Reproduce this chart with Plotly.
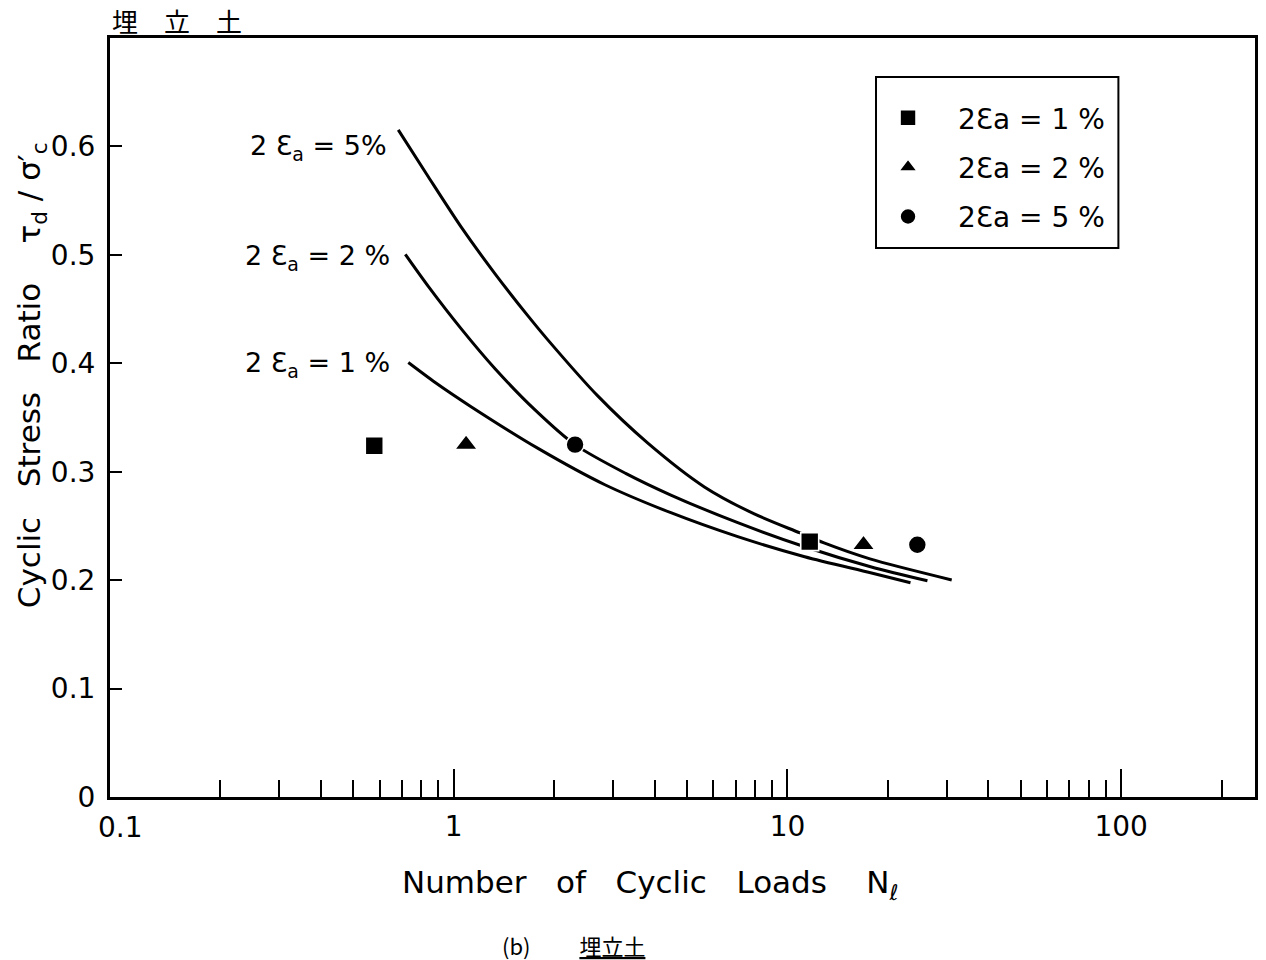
import math
import plotly.graph_objects as go

# Cyclic strength curves (double amplitude axial strain 2εa) for reclaimed soil
n_1pct = [0.731, 0.880, 1.127, 1.789, 2.838, 4.473, 7.096, 11.26, 17.74, 23.37]
r_1pct = [0.4007, 0.3823, 0.360, 0.3215, 0.288, 0.2622, 0.2401, 0.2216, 0.2068, 0.1976]

n_2pct = [0.716, 0.838, 1.052, 1.330, 1.752, 2.308, 3.274, 4.473, 7.096, 11.26, 17.74, 26.27]
r_2pct = [0.5005, 0.4712, 0.432, 0.395, 0.357, 0.325, 0.2985, 0.2785, 0.253, 0.2308, 0.2124, 0.1994]

n_5pct = [0.682, 0.839, 1.052, 1.330, 1.669, 1.914, 2.701, 3.809, 5.638, 7.953, 10.91, 12.87, 17.67, 31.06]
r_5pct = [0.6153, 0.572, 0.5258, 0.4825, 0.4437, 0.4216, 0.3699, 0.3266, 0.286, 0.2611, 0.2435, 0.2343, 0.2196, 0.2002]

# Test results
pts_1pct_n = [0.578, 11.66]
pts_1pct_r = [0.324, 0.2355]
pts_2pct_n = [1.089, 16.9]
pts_2pct_r = [0.325, 0.2327]
pts_5pct_n = [2.31, 24.5]
pts_5pct_r = [0.325, 0.2327]

curve_labels = ["2 Ɛ<sub>a</sub> = 1 %", "2 Ɛ<sub>a</sub> = 2 %", "2 Ɛ<sub>a</sub> = 5%"]
legend_labels = ["2Ɛa = 1 %", "2Ɛa = 2 %", "2Ɛa = 5 %"]

x_major = [1, 10, 100]
x_major_text = ["1", "10", "100"]
x_minor = [0.2, 0.3, 0.4, 0.5, 0.6, 0.7, 0.8, 0.9,
           2, 3, 4, 5, 6, 7, 8, 9,
           20, 30, 40, 50, 60, 70, 80, 90, 200]
y_ticks = [0, 0.1, 0.2, 0.3, 0.4, 0.5, 0.6]
y_ticktext = ["0", "0.1", "0.2", "0.3", "0.4", "0.5", "0.6"]

FONT = "DejaVu Sans"
CJK = "Noto Sans CJK JP"

fig = go.Figure()

for n, r in [(n_1pct, r_1pct), (n_2pct, r_2pct), (n_5pct, r_5pct)]:
    fig.add_trace(go.Scatter(
        x=n, y=r, mode="lines",
        line=dict(color="black", width=3, shape="spline", smoothing=0.8),
        showlegend=False, hoverinfo="skip",
    ))

for n, r, sym, size, name in [
    (pts_1pct_n, pts_1pct_r, "square", 18, legend_labels[0]),
    (pts_2pct_n, pts_2pct_r, "triangle-up", 20, legend_labels[1]),
    (pts_5pct_n, pts_5pct_r, "circle", 18, legend_labels[2]),
]:
    fig.add_trace(go.Scatter(
        x=n, y=r, mode="markers", name=name, legendgroup=name,
        marker=dict(symbol=sym, size=size, color="black",
                    line=dict(color="white", width=1.6)),
    ))

# Curve labels beside the start of each curve
for n, r, text, dx, dy in [(n_1pct, r_1pct, curve_labels[0], -16, -2),
                           (n_2pct, r_2pct, curve_labels[1], -13, -3),
                           (n_5pct, r_5pct, curve_labels[2], -9, -18)]:
    fig.add_annotation(
        x=math.log10(n[0]), y=r[0], xref="x", yref="y", text=text, showarrow=False,
        xanchor="right", yanchor="middle", xshift=dx, yshift=dy,
        font=dict(family=FONT, size=27, color="black"),
    )

# "0.1" label at the left end of the axis
fig.add_annotation(
    x=-1, y=0, xref="x", yref="paper", text="0.1", showarrow=False,
    xanchor="center", yanchor="top", yshift=-12,
    font=dict(family=FONT, size=28, color="black"),
)

# Axis titles
fig.add_annotation(
    x=-0.068, y=0.556, xref="paper", yref="paper",
    text="Cyclic   Stress   Ratio    τ<sub>d</sub> / σ′<sub>c</sub>",
    showarrow=False, textangle=-90, xanchor="center", yanchor="middle",
    font=dict(family=FONT, size=31, color="black"),
)
fig.add_annotation(
    x=0.472, y=-0.115, xref="paper", yref="paper",
    text="Number   of   Cyclic   Loads    N<sub>ℓ</sub>",
    showarrow=False, xanchor="center", yanchor="middle",
    font=dict(family=FONT, size=31, color="black"),
)

# Panel title and caption
fig.add_annotation(
    x=0.0, y=1.0, xref="paper", yref="paper", text="埋　立　土",
    showarrow=False, xanchor="left", yanchor="bottom", yshift=-3,
    font=dict(family=CJK, size=26, color="black"),
)
fig.add_annotation(
    x=0.405, y=-0.195, xref="paper", yref="paper", text="(b)　　 <u>埋立土</u>",
    showarrow=False, xanchor="center", yanchor="middle",
    font=dict(family=CJK, size=22, color="black"),
)

# Frame around the legend
fig.add_shape(
    type="rect", xref="paper", yref="paper",
    x0=0.669, x1=0.8807, y0=0.7233, y1=0.9486,
    line=dict(color="black", width=2), fillcolor="rgba(0,0,0,0)",
)

fig.update_xaxes(
    type="log", range=[-1.03, 2.401],
    showline=True, linecolor="black", linewidth=3, mirror=True,
    showgrid=False, zeroline=False,
    tickvals=x_major, ticktext=x_major_text,
    ticks="inside", ticklen=28, tickwidth=2, tickcolor="black",
    ticklabelstandoff=2,
    tickfont=dict(family=FONT, size=28, color="black"),
    minor=dict(tickvals=x_minor, ticks="inside", ticklen=17, tickwidth=2,
               tickcolor="black", showgrid=False),
)
fig.update_yaxes(
    range=[0, 0.7],
    showline=True, linecolor="black", linewidth=3, mirror=True,
    showgrid=False, zeroline=False,
    tickvals=y_ticks, ticktext=y_ticktext,
    ticks="inside", ticklen=12, tickwidth=2, tickcolor="black",
    ticklabelstandoff=6,
    tickfont=dict(family=FONT, size=28, color="black"),
)

fig.update_layout(
    width=1266, height=960,
    margin=dict(l=110, r=8, t=38, b=163),
    paper_bgcolor="white", plot_bgcolor="white",
    legend=dict(
        x=0.6533, y=0.9275, xanchor="left", yanchor="top",
        borderwidth=0, bgcolor="rgba(0,0,0,0)",
        font=dict(family=FONT, size=28, color="black"),
        itemwidth=90, tracegroupgap=10,
    ),
)

fig.write_html("out.html")
